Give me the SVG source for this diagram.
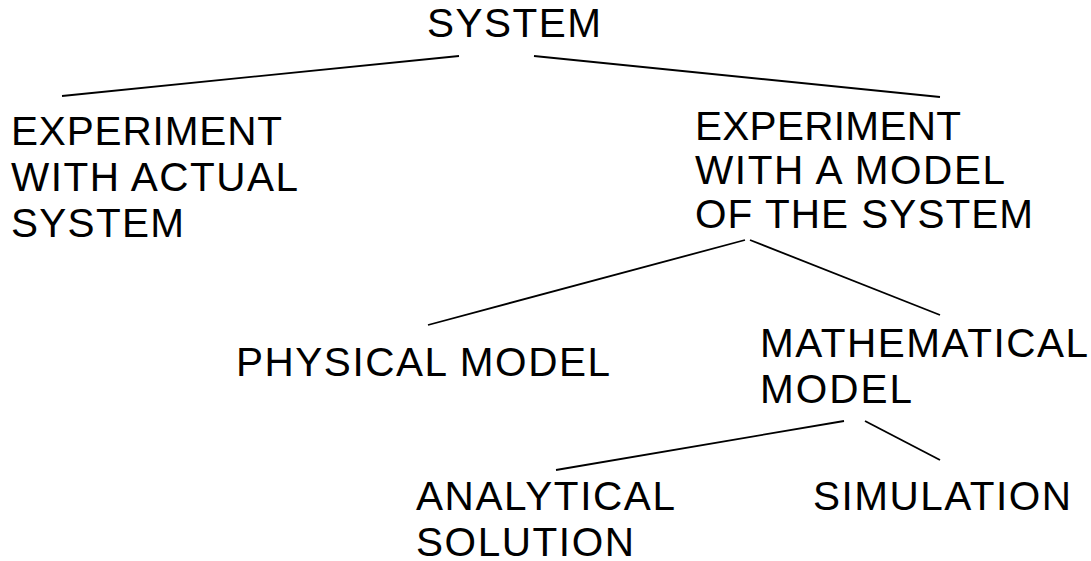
<svg xmlns="http://www.w3.org/2000/svg" width="1091" height="561" viewBox="0 0 1091 561">
<style>
text{font-family:"Liberation Sans",Arial,sans-serif;font-size:40.5px;fill:#000}
.c line{stroke:#000;stroke-width:1.8;fill:none}
</style>
<rect width="1091" height="561" fill="#fff"/>
<g class="c" id="connectors">
<line x1="459" y1="56" x2="62" y2="96"/>
<line x1="534" y1="56" x2="940" y2="97"/>
<line x1="745" y1="240" x2="428" y2="325"/>
<line x1="750" y1="240" x2="940" y2="315"/>
<line x1="844" y1="421" x2="556" y2="470"/>
<line x1="865" y1="421" x2="940" y2="460"/>
</g>
<g id="system"><text x="427" y="37" textLength="174">SYSTEM</text></g>
<g id="actual"><text x="11" y="145" textLength="271">EXPERIMENT</text><text x="11" y="191" textLength="287">WITH ACTUAL</text><text x="11" y="237" textLength="173">SYSTEM</text></g>
<g id="model"><text x="695" y="140" textLength="266">EXPERIMENT</text><text x="695" y="184" textLength="310">WITH A MODEL</text><text x="695" y="228" textLength="338">OF THE SYSTEM</text></g>
<g id="physical"><text x="236" y="376" textLength="374">PHYSICAL MODEL</text></g>
<g id="math"><text x="760" y="357" textLength="328">MATHEMATICAL</text><text x="760" y="403" textLength="152">MODEL</text></g>
<g id="analytical"><text x="416" y="510" textLength="259">ANALYTICAL</text><text x="416" y="556" textLength="218">SOLUTION</text></g>
<g id="simulation"><text x="813" y="510" textLength="258">SIMULATION</text></g>
</svg>
